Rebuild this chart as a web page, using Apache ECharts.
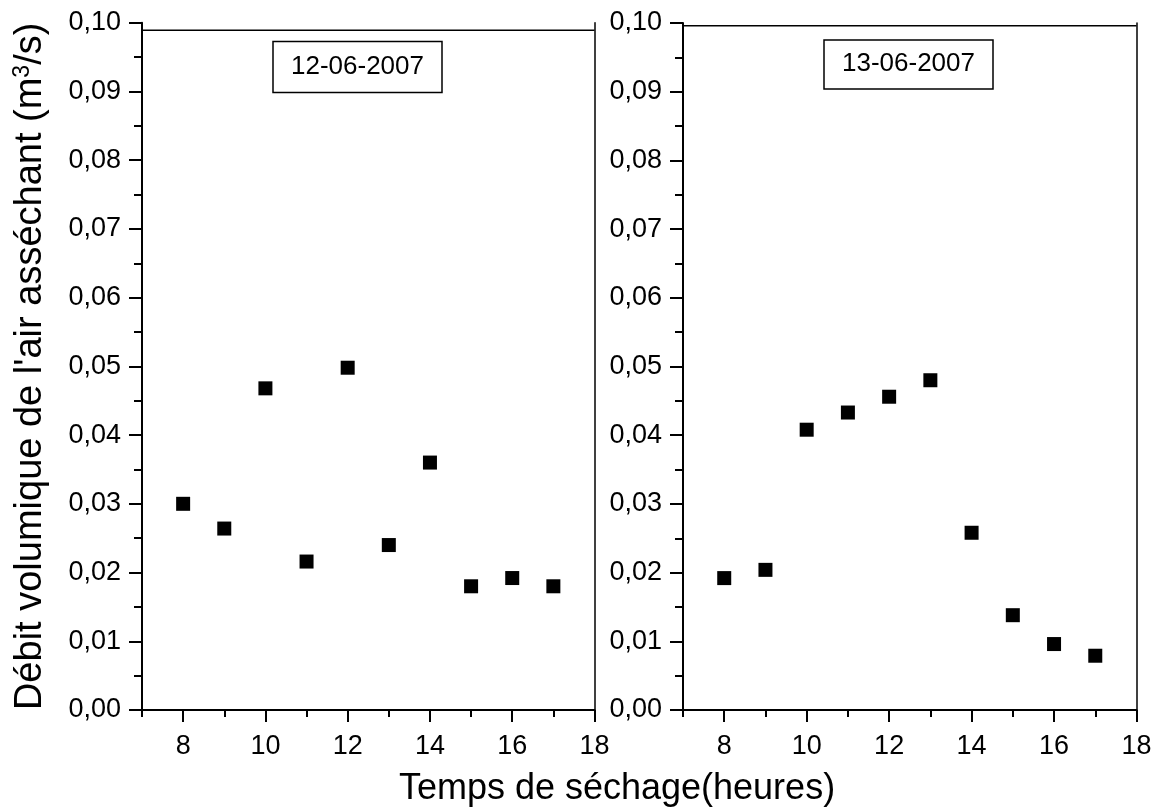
<!DOCTYPE html>
<html>
<head>
<meta charset="utf-8">
<script src="https://cdn.jsdelivr.net/npm/echarts@6/dist/echarts.min.js"></script>
<style>
  html, body { margin: 0; padding: 0; background: #fff; }
  #chart { width: 1163px; height: 809px; }
</style>
</head>
<body>
<div id="chart"></div>
<script>
// Measurement hours (x) and air flow rate (m3/s) for each drying day
const hours = [8, 9, 10, 11, 12, 13, 14, 15, 16, 17];
const debit12 = [0.0300, 0.0264, 0.0468, 0.0216, 0.0498, 0.0240, 0.0360, 0.0180, 0.0192, 0.0180];
const debit13 = [0.0192, 0.0204, 0.0408, 0.0433, 0.0456, 0.0480, 0.0258, 0.0138, 0.0096, 0.0079];
const dayLabels = ['12-06-2007', '13-06-2007'];

// Axis ticks
const xMajorTicks = [8, 10, 12, 14, 16, 18];
const xMinorTicks = [7, 9, 11, 13, 15, 17];
const xRange = [7, 18];
const yRange = [0, 0.10];
const yStep = 0.01;

const FONT = "'Liberation Sans', Arial, sans-serif";
const INK = '#000';

function pairs(ys) { return hours.map((h, i) => [h, ys[i]]); }

// two panels; each is drawn in a main grid plus an overlay grid of the same size
const panels = [
  { left: 142, right: 568.5, top: 22.7, bottom: 99 },
  { left: 683, right: 26.5, top: 23, bottom: 99 }
];
// upper frame edge of each panel, in data units
const frameTop = [0.0989, 0.0996];

const grids = panels.concat(panels.map(p => Object.assign({}, p)));
const xAxes = [], yAxes = [], series = [], titles = [];

panels.forEach((g, i) => {
  // main axes (grid i)
  xAxes.push({
    type: 'value', gridIndex: i, min: xRange[0], max: xRange[1], position: 'bottom',
    axisLine: { show: true, onZero: false, lineStyle: { color: INK, width: 2 } },
    axisTick: { show: true, customValues: xMajorTicks, length: 12, lineStyle: { color: INK, width: 2 } },
    axisLabel: { customValues: xMajorTicks, color: INK, fontSize: 27, fontFamily: FONT, margin: 23 },
    splitLine: { show: false }
  });
  yAxes.push({
    type: 'value', gridIndex: i, min: yRange[0], max: yRange[1], interval: yStep, position: 'left',
    axisLine: { show: true, onZero: false, lineStyle: { color: INK, width: 2 } },
    axisTick: { show: true, length: 13, lineStyle: { color: INK, width: 2 } },
    minorTick: { show: true, splitNumber: 2, length: 8, lineStyle: { color: INK, width: 2 } },
    axisLabel: {
      color: INK, fontSize: 27, fontFamily: FONT, margin: 21,
      formatter: v => v.toFixed(2).replace('.', ',')
    },
    splitLine: { show: false },
    name: i === 0 ? "{t|Débit volumique de l'air asséchant (m}{s|3}{t|/s)}" : '',
    nameLocation: 'middle',
    nameGap: 92,
    nameTextStyle: {
      rich: {
        t: { fontSize: 38, fontFamily: FONT, color: INK },
        s: { fontSize: 23, fontFamily: FONT, color: INK, verticalAlign: 'top', padding: [0, 0, 16, 0] }
      }
    }
  });
});

panels.forEach((g, i) => {
  // overlay axes (grid 2 + i): minor hour ticks and the right-hand frame edge
  xAxes.push({
    type: 'value', gridIndex: 2 + i, min: xRange[0], max: xRange[1], position: 'bottom',
    axisLine: { show: false, onZero: false },
    axisTick: { show: true, customValues: xMinorTicks, length: 7, lineStyle: { color: INK, width: 2 } },
    axisLabel: { show: false },
    splitLine: { show: false }
  });
  yAxes.push({
    type: 'value', gridIndex: 2 + i, min: yRange[0], max: yRange[1], position: 'right',
    axisLine: { show: true, onZero: false, lineStyle: { color: INK, width: 1.5 } },
    axisTick: { show: false }, axisLabel: { show: false }, splitLine: { show: false }
  });
});

panels.forEach((g, i) => {
  // upper frame edge
  series.push({
    type: 'line', silent: true, z: 1,
    xAxisIndex: i, yAxisIndex: i,
    data: [[xRange[0], frameTop[i]], [xRange[1], frameTop[i]]],
    showSymbol: false, symbol: 'none',
    lineStyle: { color: INK, width: 1.4 },
    emphasis: { disabled: true }, tooltip: { show: false }
  });
  series.push({
    type: 'scatter',
    xAxisIndex: i, yAxisIndex: i,
    data: pairs(i === 0 ? debit12 : debit13),
    symbol: 'rect', symbolSize: 14,
    itemStyle: { color: INK, opacity: 1 }
  });
});

titles.push({
  text: dayLabels[0], left: 273, top: 41.5,
  padding: [12, 18, 13, 18], borderColor: INK, borderWidth: 1.5,
  textStyle: { fontSize: 26, fontWeight: 'normal', fontFamily: FONT, color: INK }
});
titles.push({
  text: dayLabels[1], left: 824, top: 40,
  padding: [11, 18, 12, 18], borderColor: INK, borderWidth: 1.5,
  textStyle: { fontSize: 26, fontWeight: 'normal', fontFamily: FONT, color: INK }
});
titles.push({
  text: 'Temps de séchage(heures)', left: 612, top: 766, textAlign: 'center',
  textStyle: { fontSize: 36, fontWeight: 'normal', fontFamily: FONT, color: INK }
});

const chart = echarts.init(document.getElementById('chart'), null, { renderer: 'canvas' });
chart.setOption({
  animation: false,
  backgroundColor: '#fff',
  title: titles,
  grid: grids,
  xAxis: xAxes,
  yAxis: yAxes,
  series: series
});
</script>
</body>
</html>
